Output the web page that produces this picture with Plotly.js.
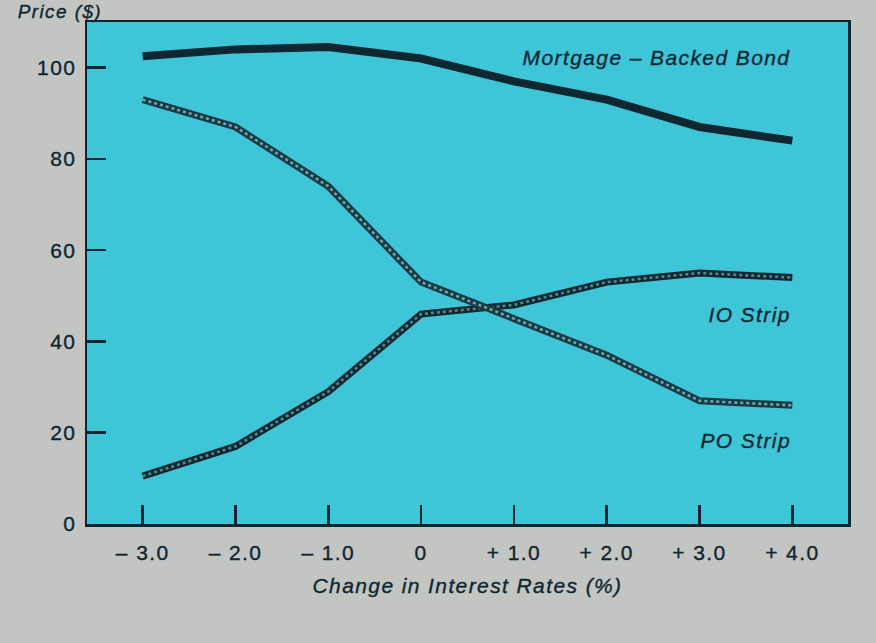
<!DOCTYPE html>
<html>
<head>
<meta charset="utf-8">
<script src="https://cdn.plot.ly/plotly-3.0.1.min.js"></script>
<style>
html,body{margin:0;padding:0;background:#c3c5c3;}
#chart{width:876px;height:643px;}
#chart svg text{letter-spacing:1.4px; stroke:#0f2630; stroke-width:0.35px;}
</style>
</head>
<body>
<div id="chart"></div>
<script>
// ---- data ----
var rateChange = [-3, -2, -1, 0, 1, 2, 3, 4];
var xTickLabels = ["\u2013 3.0", "\u2013 2.0", "\u2013 1.0", "0", "+ 1.0", "+ 2.0", "+ 3.0", "+ 4.0"];
var yTickVals = [0, 20, 40, 60, 80, 100];
var bondPrice = [102.5, 104, 104.5, 102, 97, 93, 87, 84];
var ioPrice = [10.5, 17, 29, 46, 48, 53, 55, 54];
var poPrice = [93, 87, 74, 53, 45, 37, 27, 26];
var seriesNames = ["Mortgage \u2013 Backed Bond", "IO Strip", "PO Strip"];
var labelY = [102.3, 46, 18.2];
var labelShift = [-14, -5, -5];

var ink = "#0f2630";
var fontFam = "Liberation Sans, Arial, Helvetica, sans-serif";

var traces = [
  {x: rateChange, y: ioPrice, mode: "lines", line: {color: "#12272f", width: 7}, hoverinfo: "skip", showlegend: false},
  {x: rateChange, y: ioPrice, mode: "lines", line: {color: "#4f8a94", width: 2.5, dash: "dot"}, hoverinfo: "skip", showlegend: false},
  {x: rateChange, y: poPrice, mode: "lines", line: {color: "#1b3a44", width: 7}, hoverinfo: "skip", showlegend: false},
  {x: rateChange, y: poPrice, mode: "lines", line: {color: "#6aa9b3", width: 2.5, dash: "dot"}, hoverinfo: "skip", showlegend: false},
  {x: rateChange, y: bondPrice, mode: "lines", name: seriesNames[0], line: {color: "#0e2730", width: 8}, showlegend: false}
];

var annotations = [];
for (var i = 0; i < seriesNames.length; i++) {
  annotations.push({
    x: 4, y: labelY[i], xref: "x", yref: "y", xanchor: "right", yanchor: "middle",
    text: "<i>" + seriesNames[i] + "</i>", showarrow: false, xshift: labelShift[i],
    font: {family: fontFam, size: 21, color: ink}
  });
}
annotations.push({
  x: -0.0854, y: 1, xref: "paper", yref: "paper", xanchor: "left", yanchor: "middle", yshift: 11,
  text: "<i>Price ($)</i>", showarrow: false,
  font: {family: fontFam, size: 19, color: ink}
});

var layout = {
  width: 876, height: 643,
  margin: {l: 87, r: 28, t: 22, b: 119},
  paper_bgcolor: "#c3c5c3",
  plot_bgcolor: "#3ec5d8",
  showlegend: false,
  xaxis: {
    range: [-3.6, 4.6],
    tickmode: "array", tickvals: rateChange, ticktext: xTickLabels,
    ticks: "inside", ticklen: 19, tickwidth: 2.5, tickcolor: ink,
    ticklabelstandoff: 8,
    showgrid: false, zeroline: false,
    showline: true, mirror: true, linecolor: ink, linewidth: 2.5,
    tickfont: {family: fontFam, size: 21, color: ink},
    title: {text: "<i>Change in Interest Rates (%)</i>", font: {family: fontFam, size: 21, color: ink}, standoff: 16}
  },
  yaxis: {
    range: [0, 110],
    tickmode: "array", tickvals: yTickVals,
    ticks: "inside", ticklen: 19, tickwidth: 2.5, tickcolor: ink,
    ticklabelstandoff: 4,
    showgrid: false, zeroline: false,
    showline: true, mirror: true, linecolor: ink, linewidth: 2.5,
    tickfont: {family: fontFam, size: 21, color: ink}
  },
  annotations: annotations
};

Plotly.newPlot("chart", traces, layout, {displayModeBar: false, staticPlot: true});
</script>
</body>
</html>
